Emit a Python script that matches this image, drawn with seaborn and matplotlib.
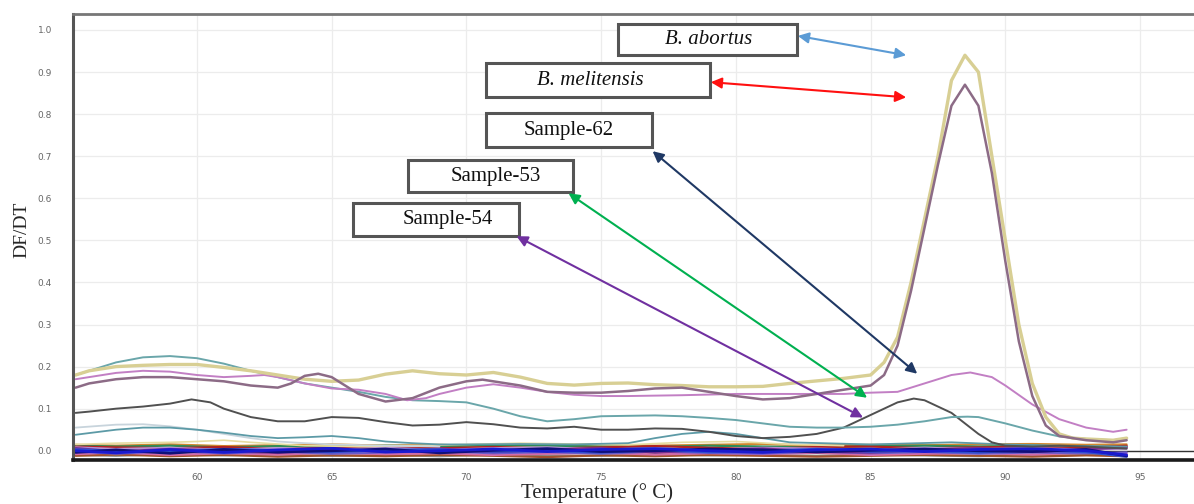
import numpy as np
import pandas as pd
import matplotlib
matplotlib.use("Agg")
import matplotlib.pyplot as plt
from matplotlib.patches import Rectangle
import seaborn as sns

# --- data -----------------------------------------------------------------
# main curves (temperature in deg C, value in DF/DT)
t_abortus = [55.5, 56, 57, 58, 59, 60, 61, 62, 63, 64, 65, 66, 67, 68, 69, 70, 71, 72, 73, 74,
             75, 76, 77, 78, 79, 80, 81, 82, 83, 84, 85, 85.5, 86, 86.5, 87, 87.5, 88, 88.5,
             89, 89.5, 90, 90.5, 91, 91.5, 92, 92.5, 93, 94, 94.5]
v_abortus = [0.18, 0.19, 0.20, 0.203, 0.205, 0.205, 0.198, 0.19, 0.18, 0.17, 0.165, 0.168, 0.182,
             0.19, 0.183, 0.18, 0.186, 0.175, 0.16, 0.156, 0.16, 0.161, 0.157, 0.155, 0.152, 0.152,
             0.153, 0.16, 0.166, 0.172, 0.18, 0.21, 0.27, 0.40, 0.55, 0.70, 0.88, 0.94, 0.90, 0.70,
             0.50, 0.30, 0.16, 0.08, 0.04, 0.03, 0.028, 0.025, 0.03]

t_melitensis = [55.5, 56, 57, 58, 59, 60, 61, 62, 63, 63.5, 64, 64.5, 65, 65.5, 66, 67, 68, 69, 70,
                70.6, 72, 73, 74, 75, 76, 77, 78, 79, 80, 81, 82, 83, 84, 85, 85.5, 86, 86.5, 87,
                87.5, 88, 88.5, 89, 89.5, 90, 90.5, 91, 91.5, 92, 93, 94, 94.5]
v_melitensis = [0.15, 0.16, 0.17, 0.175, 0.175, 0.17, 0.165, 0.155, 0.15, 0.16, 0.178, 0.183,
                0.175, 0.155, 0.135, 0.117, 0.125, 0.15, 0.165, 0.169, 0.155, 0.14, 0.138, 0.138,
                0.142, 0.148, 0.15, 0.14, 0.13, 0.122, 0.125, 0.135, 0.145, 0.155, 0.18, 0.25,
                0.38, 0.53, 0.68, 0.82, 0.87, 0.82, 0.66, 0.45, 0.26, 0.13, 0.06, 0.035, 0.025,
                0.02, 0.025]

t_orchid = [55.5, 57, 58, 59, 60, 61, 62, 62.5, 63, 64, 65, 66, 67, 67.8, 68.5, 69, 70, 71, 72,
            73, 74, 75, 76, 78, 80, 82, 84, 85, 86, 87, 88, 88.7, 89.5, 90, 91, 92, 93, 94, 94.5]
v_orchid = [0.17, 0.185, 0.19, 0.188, 0.18, 0.175, 0.178, 0.18, 0.175, 0.16, 0.148, 0.145, 0.135,
            0.12, 0.125, 0.135, 0.15, 0.158, 0.15, 0.14, 0.133, 0.13, 0.13, 0.132, 0.135, 0.135,
            0.135, 0.138, 0.14, 0.16, 0.18, 0.186, 0.175, 0.155, 0.11, 0.075, 0.055, 0.045, 0.05]

t_teal = [55.5, 56, 57, 58, 59, 60, 61, 62, 63, 64, 65, 66, 67, 68, 69, 70, 71, 72, 73, 74, 75,
          76, 77, 78, 79, 80, 81, 82, 83, 84, 85, 86, 87, 88, 88.6, 89, 90, 91, 92, 93, 94, 94.5]
v_teal = [0.18, 0.19, 0.21, 0.222, 0.225, 0.22, 0.207, 0.19, 0.175, 0.16, 0.15, 0.14, 0.128, 0.12,
          0.118, 0.115, 0.10, 0.082, 0.07, 0.075, 0.082, 0.083, 0.084, 0.082, 0.078, 0.073, 0.065,
          0.057, 0.055, 0.055, 0.057, 0.062, 0.07, 0.08, 0.081, 0.08, 0.065, 0.048, 0.034, 0.028,
          0.025, 0.03]

t_dark = [55.5, 56, 57, 58, 59, 59.8, 60.5, 61, 62, 63, 64, 65, 66, 67, 68, 69, 70, 71, 72, 73,
          74, 75, 76, 77, 78, 79, 80, 81, 82, 83, 84, 85, 86, 86.6, 87, 88, 89, 89.5, 90, 91, 92,
          93, 94.5]
v_dark = [0.09, 0.093, 0.10, 0.105, 0.112, 0.122, 0.115, 0.10, 0.08, 0.07, 0.07, 0.08, 0.078,
          0.068, 0.06, 0.062, 0.068, 0.063, 0.055, 0.053, 0.057, 0.05, 0.05, 0.053, 0.052, 0.045,
          0.035, 0.03, 0.033, 0.04, 0.055, 0.085, 0.115, 0.124, 0.12, 0.09, 0.04, 0.02, 0.012,
          0.01, 0.012, 0.01, 0.005]

t_lowgray = [55.5, 57, 58, 59, 60, 61, 62, 63, 64, 65, 67, 69]
v_lowgray = [0.055, 0.062, 0.063, 0.058, 0.05, 0.04, 0.03, 0.022, 0.018, 0.015, 0.012, 0.01]

t_lowteal = [55.5, 57, 58, 59, 60, 61, 62, 63, 64, 65, 66, 67, 68, 69, 70, 72, 74, 76, 77, 78,
             79, 80, 81, 82, 85, 88, 90, 92, 94.5]
v_lowteal = [0.038, 0.05, 0.055, 0.055, 0.05, 0.043, 0.035, 0.03, 0.032, 0.035, 0.03, 0.022,
             0.018, 0.015, 0.015, 0.016, 0.015, 0.018, 0.03, 0.04, 0.045, 0.04, 0.03, 0.02, 0.015,
             0.02, 0.015, 0.012, 0.01]

t_lowyellow = [55.5, 57, 59, 60, 61, 62, 63, 64, 66, 68, 70, 72, 74, 76, 78, 80, 82, 84]
v_lowyellow = [0.015, 0.018, 0.02, 0.022, 0.025, 0.02, 0.016, 0.012, 0.01, 0.012, 0.015, 0.018,
               0.016, 0.014, 0.02, 0.022, 0.015, 0.012]

# baseline bundle (negative samples)
t_base = [55.5, 57, 59, 61, 63, 65, 67, 69, 71, 73, 75, 77, 79, 81, 83, 85, 87, 89, 91, 93, 94.5]
base_blue = [0.0, -0.005, 0.003, -0.004, 0.002, 0.006, -0.003, 0.0, 0.004, -0.002, 0.003, 0.005,
             0.0, -0.004, 0.002, 0.004, -0.002, 0.003, 0.005, 0.0, -0.01]
base_navy = [-0.004, 0.002, -0.006, 0.003, -0.003, 0.0, 0.004, -0.005, 0.001, 0.005, -0.002, 0.0,
             0.004, 0.002, -0.003, 0.001, 0.004, 0.0, -0.002, 0.003, -0.012]
base_purple = [0.006, -0.002, 0.004, 0.0, -0.005, 0.003, -0.002, 0.005, -0.003, 0.002, 0.006,
               -0.004, 0.002, 0.005, -0.002, -0.004, 0.002, 0.006, -0.003, 0.004, 0.008]
base_red = [0.01, 0.008, 0.006, 0.009, 0.004, 0.008, 0.01, 0.006, 0.009, 0.005, 0.008, 0.011,
            0.007, 0.004, 0.009, 0.01, 0.006, 0.008, 0.01, 0.007, 0.012]
base_green = [0.012, 0.01, 0.012, 0.008, 0.011, 0.009, 0.012, 0.01, 0.014, 0.012, 0.01, 0.009,
              0.012, 0.01, 0.008, 0.011, 0.012, 0.01, 0.012, 0.009, 0.01]
base_orange = [0.014, 0.012, 0.015, 0.011, 0.013, 0.015, 0.012, 0.014, 0.011, 0.013, 0.015,
               0.012, 0.014, 0.016, 0.012, 0.014, 0.013, 0.015, 0.016, 0.014, 0.015]
base_gray = [-0.01, -0.012, -0.008, -0.011, -0.009, -0.012, -0.01, -0.013, -0.009, -0.011, -0.012,
             -0.008, -0.011, -0.01, -0.012, -0.009, -0.011, -0.013, -0.01, -0.008, -0.012]
base_pink = [-0.008, -0.004, -0.01, -0.006, -0.009, -0.005, -0.008, -0.006, -0.01, -0.007, -0.005,
             -0.009, -0.006, -0.008, -0.005, -0.01, -0.007, -0.006, -0.009, -0.005, -0.006]
base_royal = [0.003, 0.0, -0.002, 0.004, 0.001, -0.003, 0.002, 0.003, -0.002, 0.0, -0.004, 0.002,
              -0.003, 0.0, 0.004, -0.002, 0.0, -0.004, 0.002, -0.003, -0.014]
base_brown = [-0.012, -0.009, -0.013, -0.01, -0.014, -0.011, -0.013, -0.01, -0.012, -0.015,
              -0.011, -0.013, -0.01, -0.012, -0.014, -0.012, -0.01, -0.012, -0.014, -0.011, -0.013]
base_lilac = [0.008, 0.004, 0.007, 0.002, 0.006, 0.003, 0.007, 0.002, 0.006, 0.008, 0.003, 0.006,
              0.002, 0.007, 0.005, 0.002, 0.007, 0.004, 0.006, 0.003, 0.005]
base_slate = [-0.002, -0.007, -0.001, -0.006, -0.002, -0.007, -0.004, -0.001, -0.006, -0.003,
              -0.007, -0.002, -0.005, -0.007, -0.002, -0.006, -0.003, -0.007, -0.004, -0.006, -0.004]

y_ticks = [0.0, 0.1, 0.2, 0.3, 0.4, 0.5, 0.6, 0.7, 0.8, 0.9, 1.0]
x_ticks = [60, 65, 70, 75, 80, 85, 90, 95]

# --- long table for seaborn -----------------------------------------------
curves = [
    ("base_gray", t_base, base_gray, "#8c8c8c", 1.6),
    ("base_brown", t_base, base_brown, "#a0522d", 1.6),
    ("base_pink", t_base, base_pink, "#d46aa8", 1.6),
    ("base_slate", t_base, base_slate, "#6a5acd", 1.6),
    ("base_orange", t_base, base_orange, "#d2872e", 1.6),
    ("base_green", t_base, base_green, "#2e8b57", 1.6),
    ("base_red", t_base, base_red, "#b22222", 1.6),
    ("base_lilac", t_base, base_lilac, "#b48fd0", 1.6),
    ("base_purple", t_base, base_purple, "#7b2d8e", 1.8),
    ("base_royal", t_base, base_royal, "#3050d0", 1.8),
    ("base_navy", t_base, base_navy, "#10107a", 2.0),
    ("base_blue", t_base, base_blue, "#1a1ad0", 2.0),
    ("lowyellow", t_lowyellow, v_lowyellow, "#e6dca0", 1.2),
    ("lowgray", t_lowgray, v_lowgray, "#c8d4dc", 1.3),
    ("lowteal", t_lowteal, v_lowteal, "#5c9aa6", 1.3),
    ("dark", t_dark, v_dark, "#505050", 1.4),
    ("teal", t_teal, v_teal, "#6aa6aa", 1.4),
    ("orchid", t_orchid, v_orchid, "#c27fc4", 1.4),
    ("abortus", t_abortus, v_abortus, "#d8cf94", 2.4),
    ("melitensis", t_melitensis, v_melitensis, "#8c6b86", 1.8),
]

frames = []
for name, t, v, _, _ in curves:
    frames.append(pd.DataFrame({"temp": t, "dfdt": v, "curve": name}))
df = pd.concat(frames, ignore_index=True)
palette = {c[0]: c[3] for c in curves}
order = [c[0] for c in curves]

sns.set_theme(style="whitegrid")
plt.rcParams["font.family"] = ["DejaVu Sans"]

fig = plt.figure(figsize=(11.94, 5.04), dpi=100)
ax = fig.add_axes([0.0611, 0.0873, 0.9389, 0.8849])

sns.lineplot(data=df, x="temp", y="dfdt", hue="curve", hue_order=order, palette=palette,
             estimator=None, sort=False, legend=False, ax=ax)
for line, c in zip(ax.get_lines(), curves):
    line.set_linewidth(c[4])

ax.axhline(0, color="#333333", lw=1.0, zorder=1)

ax.set_xlim(55.4, 97.0)
ax.set_ylim(-0.022, 1.038)
ax.set_xticks(x_ticks)
ax.set_yticks(y_ticks)
ax.set_xticklabels([str(x) for x in x_ticks])
ax.set_yticklabels([f"{y:.1f}" for y in y_ticks])
ax.tick_params(axis="both", labelsize=6.5, labelcolor="#666666", length=3, color="#999999")
ax.tick_params(axis="x", pad=6)
ax.tick_params(axis="y", pad=12)
ax.set_xlabel("")
ax.set_ylabel("")
ax.grid(True, color="#ececec", lw=0.9)
ax.set_facecolor("white")

ax.spines["right"].set_visible(False)
ax.spines["top"].set_color("#777777")
ax.spines["top"].set_linewidth(2)
ax.spines["left"].set_color("#555555")
ax.spines["left"].set_linewidth(2.2)
ax.spines["bottom"].set_color("#1a1a1a")
ax.spines["bottom"].set_linewidth(2.6)

# --- annotation boxes with double headed arrows ---------------------------
serif = ["Liberation Serif", "DejaVu Serif"]
boxes = [
    ("B. abortus", True, (75.61, 0.940), 6.66, 0.074, (79.0, 0.977)),
    ("B. melitensis", True, (70.71, 0.840), 8.32, 0.081, (74.6, 0.881)),
    ("Sample-62", False, (70.71, 0.721), 6.17, 0.081, (73.8, 0.762)),
    ("Sample-53", False, (67.84, 0.614), 6.10, 0.076, (71.1, 0.652)),
    ("Sample-54", False, (65.80, 0.510), 6.17, 0.080, (69.3, 0.550)),
]
for text, ital, xy, w, h, txy in boxes:
    ax.add_patch(Rectangle(xy, w, h, facecolor="white", edgecolor="#555555", lw=2.2, zorder=5))
    ax.text(txy[0], txy[1], text, ha="center", va="center", fontsize=15, family=serif,
            style="italic" if ital else "normal", color="#111111", zorder=6)

arrows = [
    ((82.30, 0.986), (86.32, 0.940), "#5b9bd5"),
    ((79.07, 0.876), (86.32, 0.840), "#ff1010"),
    ((76.91, 0.712), (86.73, 0.183), "#1f3864"),
    ((73.79, 0.612), (84.87, 0.126), "#00b050"),
    ((71.86, 0.510), (84.72, 0.079), "#7030a0"),
]
for a, b, col in arrows:
    ax.annotate("", xy=b, xytext=a,
                arrowprops=dict(arrowstyle="<|-|>", color=col, lw=1.5, mutation_scale=16,
                                shrinkA=0, shrinkB=0), zorder=7)

fig.text(0.018, 0.545, "DF/DT", rotation=90, ha="center", va="center", fontsize=14, family=serif)
fig.text(0.50, 0.022, "Temperature (° C)", ha="center", va="center", fontsize=15, family=serif)

fig.savefig("out.png", dpi=100)
